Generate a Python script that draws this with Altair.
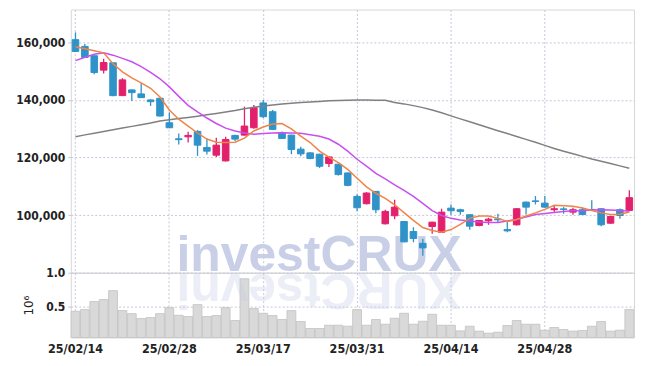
import altair as alt
import pandas as pd

dates = ["25/02/14","25/02/17","25/02/18","25/02/19","25/02/20","25/02/21","25/02/24","25/02/25","25/02/26","25/02/27","25/02/28",
         "25/03/04","25/03/05","25/03/06","25/03/07","25/03/10","25/03/11","25/03/12","25/03/13","25/03/14","25/03/17",
         "25/03/18","25/03/19","25/03/20","25/03/21","25/03/24","25/03/25","25/03/26","25/03/27","25/03/28","25/03/31",
         "25/04/01","25/04/02","25/04/03","25/04/04","25/04/07","25/04/08","25/04/09","25/04/10","25/04/11","25/04/14",
         "25/04/15","25/04/16","25/04/17","25/04/18","25/04/21","25/04/22","25/04/23","25/04/24","25/04/25","25/04/28",
         "25/04/29","25/04/30","25/05/02","25/05/07","25/05/08","25/05/09","25/05/12","25/05/13","25/05/14"]

opens = [160870,158540,155300,150310,152860,141470,143450,142060,139970,140560,
         132060,126500,127180,129060,123490,120810,118820,127670,127770,130320,
         138920,135890,128570,127770,122900,121610,121150,117910,117670,114640,
         106520,103980,108260,97010,99800,97810,94330,90250,96070,94080,
         102440,101890,100150,96420,98050,98680,95020,96660,104530,104950,
         104190,101890,102170,101050,101890,101990,102230,97220,101890,101640]
highs = [163400,159370,155400,154250,152900,147530,143600,145780,140200,140700,
         135680,128370,128920,129480,126620,126830,127180,127900,137630,138230,
         139970,136480,129000,127900,123700,121800,121300,120400,117800,114800,
         107220,108000,108400,101890,105370,98000,95830,91780,97700,102230,
         103730,102230,100300,98300,99100,100490,97810,102500,104700,106630,
         106630,103380,102790,102580,102790,105200,102400,99700,102300,108610]
lows = [156600,154500,148920,149130,141250,141300,139620,140700,137880,134200,
        130200,124530,125230,120560,121050,120210,118600,125690,127600,130000,
        133700,129500,126400,121150,120450,119400,116380,116730,113730,110000,
        101400,103700,100700,96800,98610,90600,90600,85960,93520,93900,
        100150,100150,94920,96200,96660,97570,94080,96400,100250,103730,
        102600,101050,100490,100150,100100,101540,96180,97000,98750,101400]
closes = [156800,154700,149480,152960,141470,146930,142510,140770,139370,134390,
          130320,126200,127670,124290,122200,124290,126270,126380,130910,137290,
          134150,129760,126620,122790,121260,119660,116970,120210,114080,110350,
          102580,107670,101890,101300,102790,90740,91890,88650,97570,101050,
          101540,101300,96180,98160,98610,98400,94570,102230,102790,104780,
          102790,102230,101990,101890,100250,101820,96660,99550,99900,106070]
volumes = [0.426,0.451,0.57,0.60,0.733,0.436,0.39,0.317,0.332,0.39,
           0.48,0.366,0.347,0.525,0.347,0.362,0.48,0.288,0.91,0.466,
           0.396,0.362,0.303,0.436,0.273,0.169,0.169,0.218,0.218,0.203,
           0.451,0.218,0.303,0.233,0.322,0.396,0.233,0.277,0.381,0.218,
           0.218,0.134,0.203,0.13,0.10,0.114,0.213,0.288,0.233,0.233,
           0.144,0.184,0.154,0.13,0.139,0.203,0.273,0.13,0.144,0.451]
ma_short = [158400,157700,157000,156300,152500,149700,147600,145900,144000,141000,
            136500,133300,130900,128500,126400,125300,125200,125300,126700,129200,
            130600,131600,131800,129900,127400,125200,122200,120100,118200,115900,
            112800,109800,107600,105800,103600,100900,98200,95700,94700,94100,
            95000,96800,98900,99700,99700,98900,97800,98500,99700,100800,
            102000,103400,103300,103100,102500,101600,100800,100200,100300,101100]
ma_mid = [153600,154800,155800,156300,155500,154400,153200,151500,149500,147300,
          144500,141200,138100,135800,133700,131800,130200,129200,128500,128100,
          128300,128500,128600,128500,128400,127900,127400,126400,124600,122200,
          119400,117000,114500,112600,110500,108600,106500,104100,101600,99900,
          98900,98300,98000,97600,97500,97500,98000,98500,99400,100200,
          100600,100900,101300,101500,101600,101800,101900,101800,101600,101400]
ma_long = [127200,127850,128450,129000,129600,130200,130800,131400,132000,132700,
           133100,133500,133900,134350,134800,135300,135800,136300,136900,137400,
           137900,138250,138550,138800,139050,139250,139450,139650,139800,139900,
           139950,139950,139900,139850,139100,138600,138000,137300,136500,135500,
           134450,133400,132400,131350,130300,129300,128300,127300,126300,125300,
           124200,123100,122200,121300,120400,119500,118700,117900,117100,116300]
label_dates = ["25/02/14","25/02/28","25/03/17","25/03/31","25/04/14","25/04/28"]
price_ticks = [100000, 120000, 140000, 160000]
volume_ticks = [0.5, 1.0]

RED = "#e2206c"
BLUE = "#2f93c9"
GRID = "#c6c6dc"
FONT = "DejaVu Sans Condensed"
WM = "#c8cfe7"

df = pd.DataFrame({
    "date": dates, "open": opens, "high": highs, "low": lows, "close": closes,
    "volume": volumes, "ma_short": ma_short, "ma_mid": ma_mid, "ma_long": ma_long,
})
df["dir"] = ["up" if c >= o else "down" for o, c in zip(opens, closes)]

W = 565
PH = 264
VH = 65

dir_scale = alt.Scale(domain=["up", "down"], range=[RED, BLUE])
color = alt.Color("dir:N", scale=dir_scale, legend=None)
x_price = alt.X("date:O", sort=dates,
                scale=alt.Scale(paddingInner=0.3, paddingOuter=0.15),
                axis=alt.Axis(values=label_dates, labels=False, ticks=False, domain=False,
                              title=None, grid=True, gridColor=GRID, gridDash=[2, 2],
                              labelPadding=0, minExtent=0, maxExtent=0))
y_scale = alt.Scale(domain=[80040, 171320], zero=False, nice=False)

base = alt.Chart(df)

watermark = alt.Chart(pd.DataFrame({"t": ["investCRUX"]})).mark_text(
    font="Liberation Sans", fontWeight="bold", fontSize=50, color=WM,
    align="center", baseline="alphabetic"
).encode(x=alt.value(249), y=alt.value(262), text="t:N")

wicks = base.mark_rule(strokeWidth=1.3).encode(
    x=x_price,
    y=alt.Y("low:Q", scale=y_scale,
            axis=alt.Axis(values=price_ticks, format=",d", title=None, grid=True,
                          gridColor=GRID, gridDash=[2, 2], domain=False, tickSize=3,
                          tickColor=GRID, labelPadding=3)),
    y2="high:Q",
    color=color,
)
bodies = base.mark_bar(strokeWidth=1).encode(
    x=alt.X("date:O", sort=dates),
    y=alt.Y("open:Q", scale=y_scale),
    y2="close:Q",
    color=color,
    stroke=alt.Stroke("dir:N", scale=dir_scale, legend=None),
)
line_long = base.mark_line(color="#808080", strokeWidth=1.5).encode(
    x=alt.X("date:O", sort=dates), y=alt.Y("ma_long:Q", scale=y_scale))
line_mid = base.mark_line(color="#c84ff0", strokeWidth=1.5).encode(
    x=alt.X("date:O", sort=dates), y=alt.Y("ma_mid:Q", scale=y_scale))
line_short = base.mark_line(color="#f08448", strokeWidth=1.5).encode(
    x=alt.X("date:O", sort=dates), y=alt.Y("ma_short:Q", scale=y_scale))

price = alt.layer(watermark, wicks, bodies, line_long, line_mid, line_short).properties(
    width=W, height=PH)

vbars = base.mark_bar(color="#d9d9d9", stroke="#c2c2c2", strokeWidth=0.8).encode(
    x=alt.X("date:O", sort=dates,
            scale=alt.Scale(paddingInner=0.06, paddingOuter=0.03),
            axis=alt.Axis(values=label_dates, labelAngle=0, ticks=False, domain=False,
                          title=None, grid=True, gridColor=GRID, gridDash=[2, 2],
                          labelPadding=5, labelFontSize=12.5)),
    y=alt.Y("volume:Q", scale=alt.Scale(domain=[0.035, 1.0], nice=False, zero=False),
            axis=alt.Axis(values=volume_ticks, format=".1f", title="10⁶", grid=True,
                          gridColor=GRID, gridDash=[2, 2], domain=False, tickSize=3,
                          tickColor=GRID, labelPadding=3, titlePadding=10,
                          titleFontWeight="normal", titleFontSize=12,
                          titleFont="DejaVu Sans")),
    y2=alt.datum(0.035),
)
reflection = alt.Chart(pd.DataFrame({"t": ["XURCtsevni"]})).mark_text(
    font="Liberation Sans", fontWeight="bold", fontSize=50, color=WM, opacity=0.35,
    align="center", baseline="alphabetic", angle=180
).encode(x=alt.value(249), y=alt.value(1), text="t:N")

volume = alt.layer(vbars, reflection).properties(width=W, height=VH)

chart = alt.vconcat(price, volume, spacing=0, bounds="flush").properties(
    padding={"left": 7, "top": 0, "right": 2, "bottom": 5}
).configure_view(stroke="#d8d8d8").configure_axis(
    labelFont=FONT, labelFontSize=12, labelColor="#222", labelFontWeight="bold",
    titleColor="#222"
)

chart.save("out.html", embed_options={"renderer": "svg", "actions": False})
